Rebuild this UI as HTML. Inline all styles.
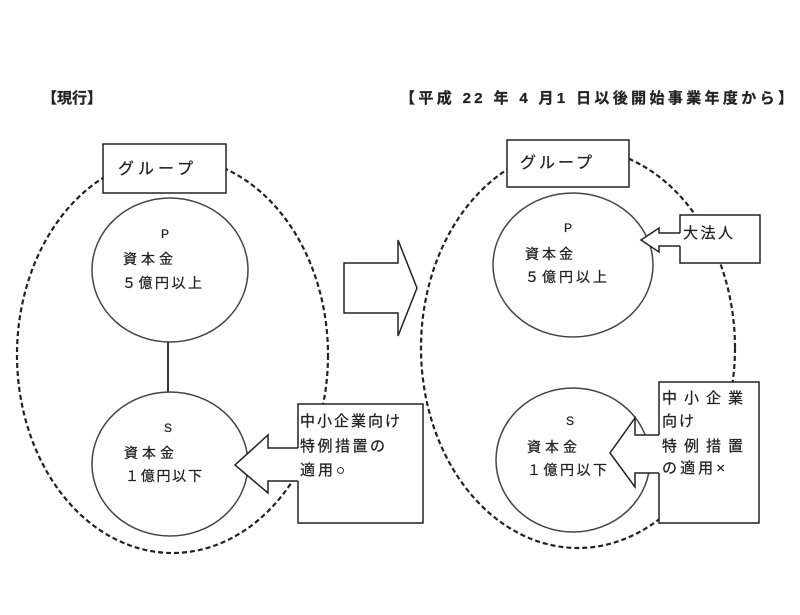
<!DOCTYPE html>
<html><head><meta charset="utf-8"><style>
html,body{margin:0;padding:0;background:#fff;}
svg{display:block;}
text{font-family:"Liberation Sans","Noto Sans CJK JP",sans-serif;fill:#222;stroke:#222;stroke-width:0.25;}
</style></head><body>
<svg width="800" height="615" viewBox="0 0 800 615" xmlns="http://www.w3.org/2000/svg">
<rect width="800" height="615" fill="#fff"/>
<!-- headers -->
<text x="42" y="103" font-size="15" font-weight="bold" textLength="60" lengthAdjust="spacingAndGlyphs">【現行】</text>
<text x="400" y="103" font-size="15" font-weight="bold" textLength="393" lengthAdjust="spacing">【平成 22 年 4 月1 日以後開始事業年度から】</text>

<!-- dashed ellipses -->
<ellipse cx="172.5" cy="355" rx="155.5" ry="198" fill="none" stroke="#222" stroke-width="2.2" stroke-dasharray="5 3"/>
<ellipse cx="578" cy="348" rx="157" ry="200" fill="none" stroke="#222" stroke-width="2.2" stroke-dasharray="5 3"/>

<!-- LEFT -->
<rect x="103" y="144" width="123" height="49" fill="#fff" stroke="#222" stroke-width="1.5"/>
<text x="118" y="174" font-size="16" textLength="75" lengthAdjust="spacing">グループ</text>

<line x1="168" y1="342" x2="168" y2="392" stroke="#333" stroke-width="2"/>
<ellipse cx="170" cy="270" rx="78" ry="72" fill="#fff" stroke="#444" stroke-width="1.5"/>
<text x="165" y="238" font-size="12" text-anchor="middle">P</text>
<text x="123" y="264" font-size="14" textLength="50" lengthAdjust="spacing">資本金</text>
<text x="122" y="288" font-size="14" textLength="80" lengthAdjust="spacing">５億円以上</text>

<ellipse cx="170" cy="464" rx="78" ry="72" fill="#fff" stroke="#444" stroke-width="1.5"/>
<text x="168" y="432" font-size="12" text-anchor="middle">S</text>
<text x="124" y="458" font-size="14" textLength="50" lengthAdjust="spacing">資本金</text>
<text x="125" y="481" font-size="14" textLength="77" lengthAdjust="spacing">１億円以下</text>

<rect x="298" y="404" width="125" height="119" fill="#fff" stroke="#222" stroke-width="1.5"/>
<polygon points="235,465 268,435 268,448 300,448 300,481 268,481 268,493" fill="#fff" stroke="none"/>
<polyline points="298,448 268,448 268,435 235,465 268,493 268,481 298,481" fill="none" stroke="#222" stroke-width="1.5"/>
<text x="300" y="426" font-size="15" textLength="100" lengthAdjust="spacing">中小企業向け</text>
<text x="300" y="451" font-size="15" textLength="85" lengthAdjust="spacing">特例措置の</text>
<text x="300" y="475" font-size="15" textLength="45" lengthAdjust="spacing">適用○</text>

<!-- middle arrow -->
<polygon points="344,263 398,263 398,240 417,288 398,336 398,313 344,313" fill="#fff" stroke="#222" stroke-width="1.5"/>

<!-- RIGHT -->
<rect x="507" y="140" width="122" height="47" fill="#fff" stroke="#222" stroke-width="1.5"/>
<text x="520" y="168" font-size="16" textLength="72" lengthAdjust="spacing">グループ</text>

<ellipse cx="573" cy="265" rx="80" ry="72" fill="#fff" stroke="#444" stroke-width="1.5"/>
<text x="568" y="232" font-size="12" text-anchor="middle">P</text>
<text x="525" y="259" font-size="14" textLength="48" lengthAdjust="spacing">資本金</text>
<text x="525" y="282" font-size="14" textLength="82" lengthAdjust="spacing">５億円以上</text>

<rect x="680" y="215" width="80" height="48" fill="#fff" stroke="#222" stroke-width="1.5"/>
<polygon points="641,240 659,228 659,233 682,233 682,246 659,246 659,252" fill="#fff" stroke="none"/>
<polyline points="680,233 659,233 659,228 641,240 659,252 659,246 680,246" fill="none" stroke="#222" stroke-width="1.5"/>
<text x="683" y="238" font-size="15" textLength="50" lengthAdjust="spacing">大法人</text>

<ellipse cx="573" cy="460" rx="77" ry="72" fill="#fff" stroke="#444" stroke-width="1.5"/>
<text x="570" y="425" font-size="12" text-anchor="middle">S</text>
<text x="527" y="452" font-size="14" textLength="50" lengthAdjust="spacing">資本金</text>
<text x="527" y="475" font-size="14" textLength="80" lengthAdjust="spacing">１億円以下</text>

<rect x="659" y="382" width="100" height="141" fill="#fff" stroke="#222" stroke-width="1.5"/>
<polygon points="610,453 635,418 635,435 661,435 661,473 635,473 635,487" fill="#fff" stroke="none"/>
<polyline points="659,435 635,435 635,418 610,453 635,487 635,473 659,473" fill="none" stroke="#222" stroke-width="1.5"/>
<text x="662" y="403" font-size="15" textLength="81" lengthAdjust="spacing">中 小 企 業</text>
<text x="662" y="426" font-size="15" textLength="32" lengthAdjust="spacing">向け</text>
<text x="662" y="451" font-size="15" textLength="81" lengthAdjust="spacing">特 例 措 置</text>
<text x="662" y="473" font-size="15" textLength="63" lengthAdjust="spacing">の適用×</text>
</svg>
</body></html>
